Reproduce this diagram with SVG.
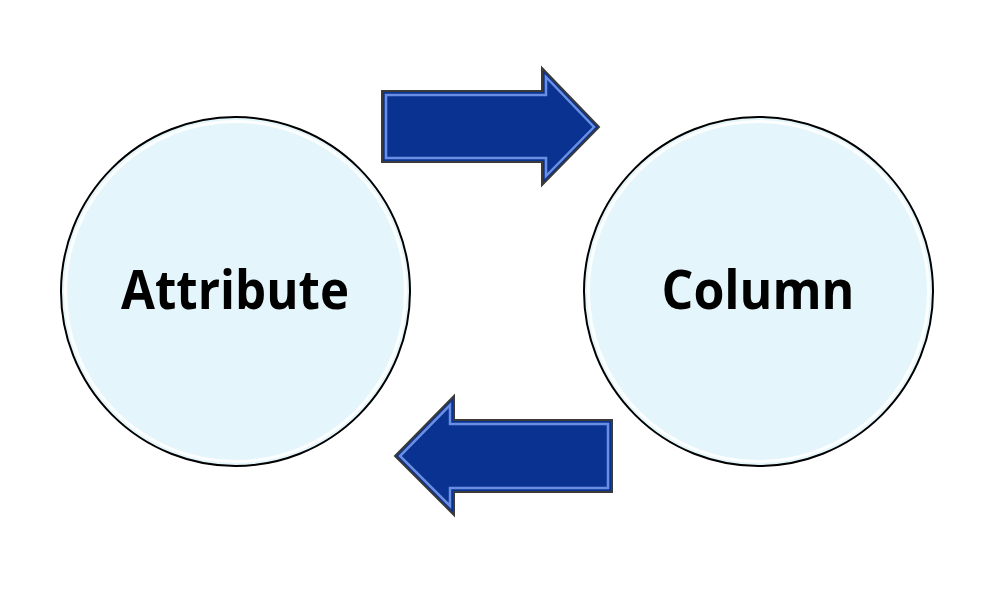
<svg xmlns="http://www.w3.org/2000/svg" width="995" height="594" viewBox="0 0 995 594">
<style>
.circ{fill:#e4f6fb;stroke:#000;stroke-width:2}
.hl{fill:none;stroke:#ffffff;stroke-width:3;opacity:0.9}
.lbl{font-family:"Open Sans","Liberation Sans",Arial,sans-serif;font-weight:bold;font-size:54px;fill:#000;text-anchor:middle}
.arr{fill:#0a3290;stroke:#3a3a3a;stroke-width:2;stroke-linejoin:miter}
.bev{fill:none;stroke:#6a8fe2;stroke-width:2.5;stroke-linejoin:miter}
</style>
<rect width="995" height="594" fill="#ffffff"/>
<g id="attribute">
<circle class="circ" cx="235.5" cy="291.5" r="174.5"/>
<circle class="hl" cx="235.5" cy="291.5" r="170"/>
<text class="lbl" x="235" y="309" textLength="228" lengthAdjust="spacingAndGlyphs">Attribute</text>
</g>
<g id="column">
<circle class="circ" cx="758.5" cy="291.5" r="174.5"/>
<circle class="hl" cx="758.5" cy="291.5" r="170"/>
<text class="lbl" x="758" y="309" textLength="193" lengthAdjust="spacingAndGlyphs">Column</text>
</g>
<g id="connectors">
<g id="arrow-right">
<path class="arr" d="M382,91 L542,91 L542,68 L599,127 L542,185 L542,162 L382,162 Z"/>
<path class="bev" d="M386,95 L546,95 L546,77 L594,127 L546,176 L546,158 L386,158 Z"/>
<path fill="#0a3290" d="M388.5,97.5 L548.5,97.5 L548.5,84 L590,127 L548.5,169 L548.5,155.5 L388.5,155.5 Z"/>
</g>
<g id="arrow-left">
<path class="arr" d="M612,420 L454,420 L454,396 L395,456 L454,515 L454,492 L612,492 Z"/>
<path class="bev" d="M608,424 L450,424 L450,405 L400,456 L450,506 L450,488 L608,488 Z"/>
<path fill="#0a3290" d="M605.5,426.5 L447.5,426.5 L447.5,412 L404,456 L447.5,499 L447.5,485.5 L605.5,485.5 Z"/>
</g>
</g>
</svg>
